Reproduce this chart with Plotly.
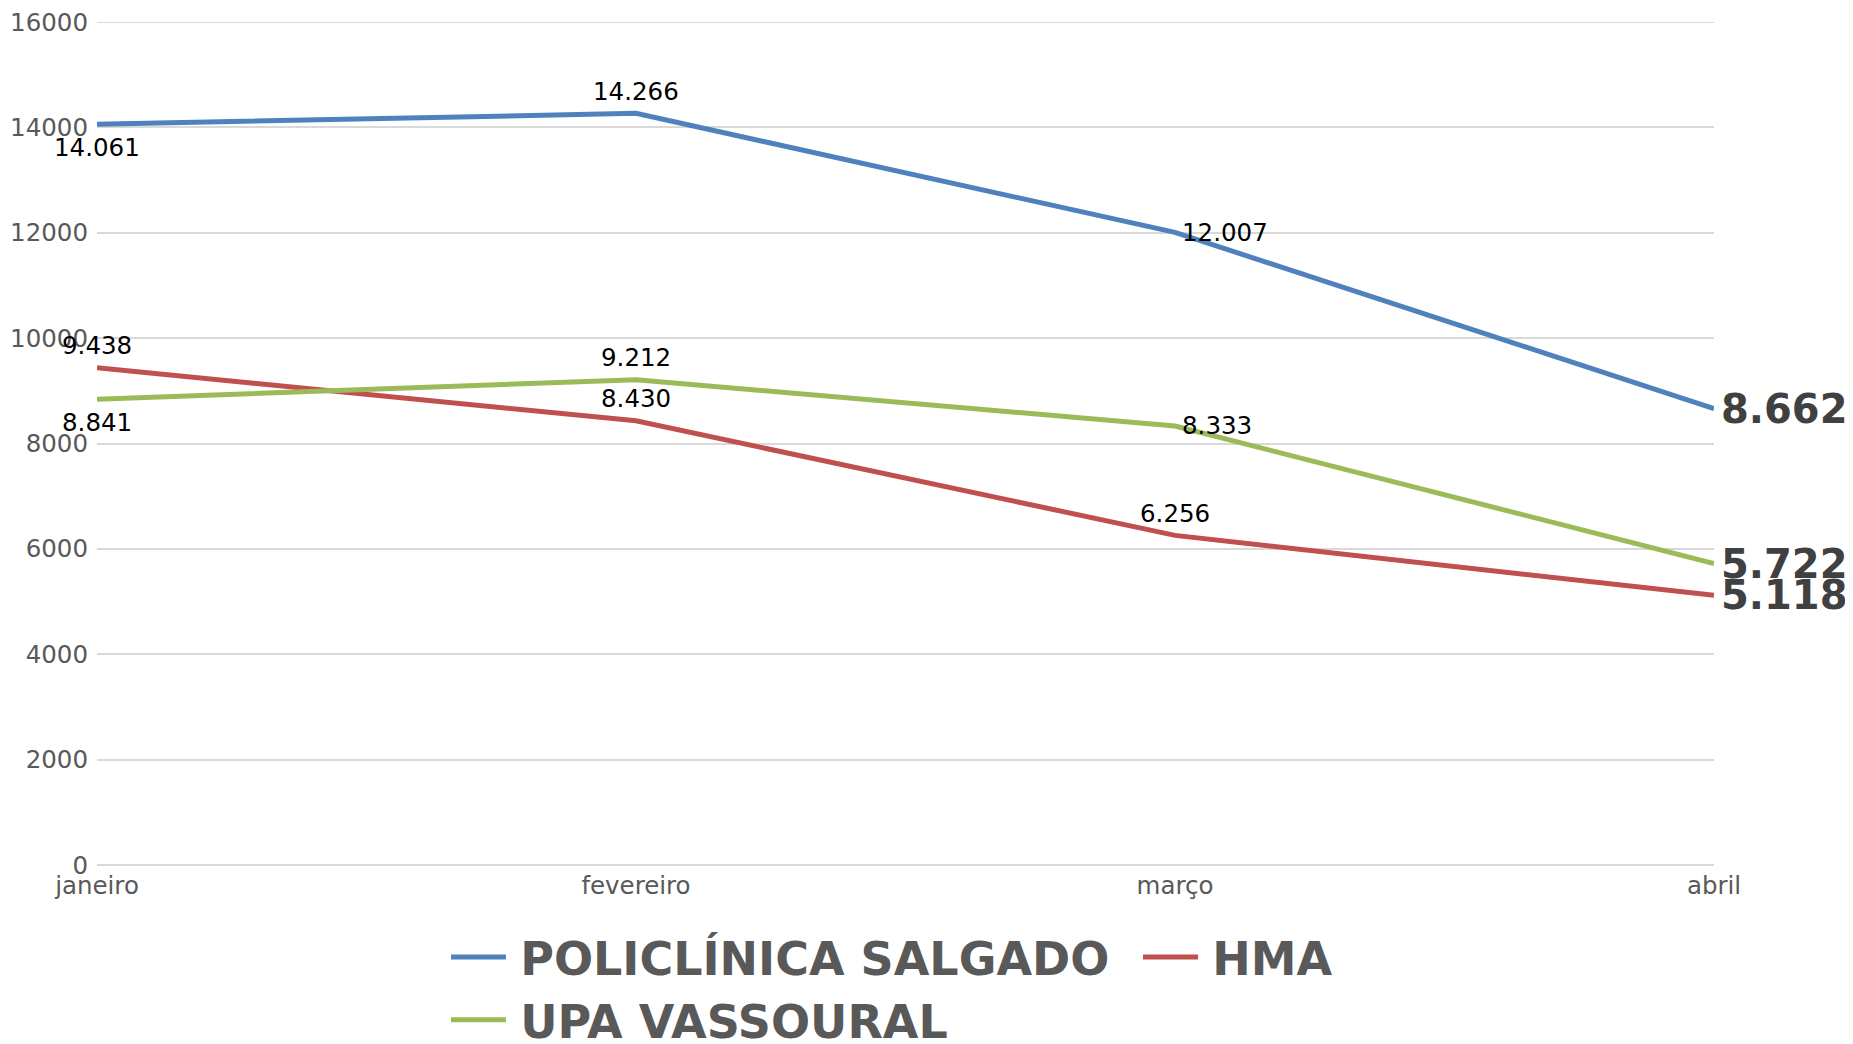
import plotly.graph_objects as go

months = ["janeiro", "fevereiro", "março", "abril"]
series_names = ["POLICLÍNICA SALGADO", "HMA", "UPA VASSOURAL"]
policlinica = [14061, 14266, 12007, 8662]
hma = [9438, 8430, 6256, 5118]
upa = [8841, 9212, 8333, 5722]
y_ticks = [0, 2000, 4000, 6000, 8000, 10000, 12000, 14000, 16000]

label_pos_policlinica = ["below", "above", "right", "right"]
label_pos_hma = ["above", "above", "above", "right"]
label_pos_upa = ["below", "above", "right", "right"]

colors = ["#4F81BD", "#C0504D", "#9BBB59"]
FONT = "DejaVu Sans"

W, H = 1853, 1044
ML, MR, MT, MB = 89, 147, 14, 187

fig = go.Figure()
all_series = [policlinica, hma, upa]
all_pos = [label_pos_policlinica, label_pos_hma, label_pos_upa]

for name, vals, col in zip(series_names, all_series, colors):
    fig.add_trace(go.Scatter(
        x=months, y=vals, name="\u2009" + name, mode="lines",
        line=dict(color=col, width=5),
        hoverinfo="skip",
    ))

def fmt(v):
    return f"{v:,}".replace(",", ".")

annotations = []
for vals, poss in zip(all_series, all_pos):
    for i, (m, v, p) in enumerate(zip(months, vals, poss)):
        last = i == len(months) - 1
        font = dict(family=FONT, size=40 if last else 24.5,
                    color="#404040" if last else "#000000",
                    weight="bold" if last else "normal")
        a = dict(x=m, y=v, xref="x", yref="y", text=fmt(v), showarrow=False,
                 font=font, borderpad=0)
        if p == "above":
            a.update(xanchor="center", yanchor="middle", yshift=22)
        elif p == "below":
            a.update(xanchor="center", yanchor="middle", yshift=-23)
        else:
            a.update(xanchor="left", yanchor="middle", xshift=6)
        annotations.append(a)

fig.update_layout(
    width=W, height=H,
    margin=dict(l=ML, r=MR, t=MT, b=MB, autoexpand=False),
    paper_bgcolor="#FFFFFF", plot_bgcolor="#FFFFFF",
    font=dict(family=FONT, color="#595959"),
    annotations=annotations,
    showlegend=True,
    legend=dict(
        orientation="h", xanchor="left", yanchor="top",
        x=(438 - ML) / (W - ML - MR), y=-0.066,
        font=dict(family=FONT, size=46, color="#595959", weight="bold"),
        itemwidth=55, entrywidth=622, entrywidthmode="pixels",
        tracegroupgap=0, bgcolor="rgba(0,0,0,0)",
    ),
    xaxis=dict(
        type="category", range=[0, 3], showgrid=False, zeroline=False,
        showline=False, ticks="", ticklabelstandoff=3,
        tickfont=dict(family=FONT, size=24.5, color="#595959"),
    ),
    yaxis=dict(
        range=[0, 16000], tickvals=y_ticks, ticktext=[str(t) for t in y_ticks],
        showgrid=True, gridcolor="#D9D9D9", gridwidth=2,
        zeroline=True, zerolinecolor="#D9D9D9", zerolinewidth=2,
        showline=False, ticks="", ticklabeloverflow="allow",
        ticklabelstandoff=8,
        tickfont=dict(family=FONT, size=24.5, color="#595959"),
    ),
    shapes=[dict(type="line", xref="paper", yref="y", x0=0, x1=1,
                 y0=y_ticks[-1], y1=y_ticks[-1],
                 line=dict(color="#D9D9D9", width=2), layer="below")],
)

fig.write_html("out.html")
